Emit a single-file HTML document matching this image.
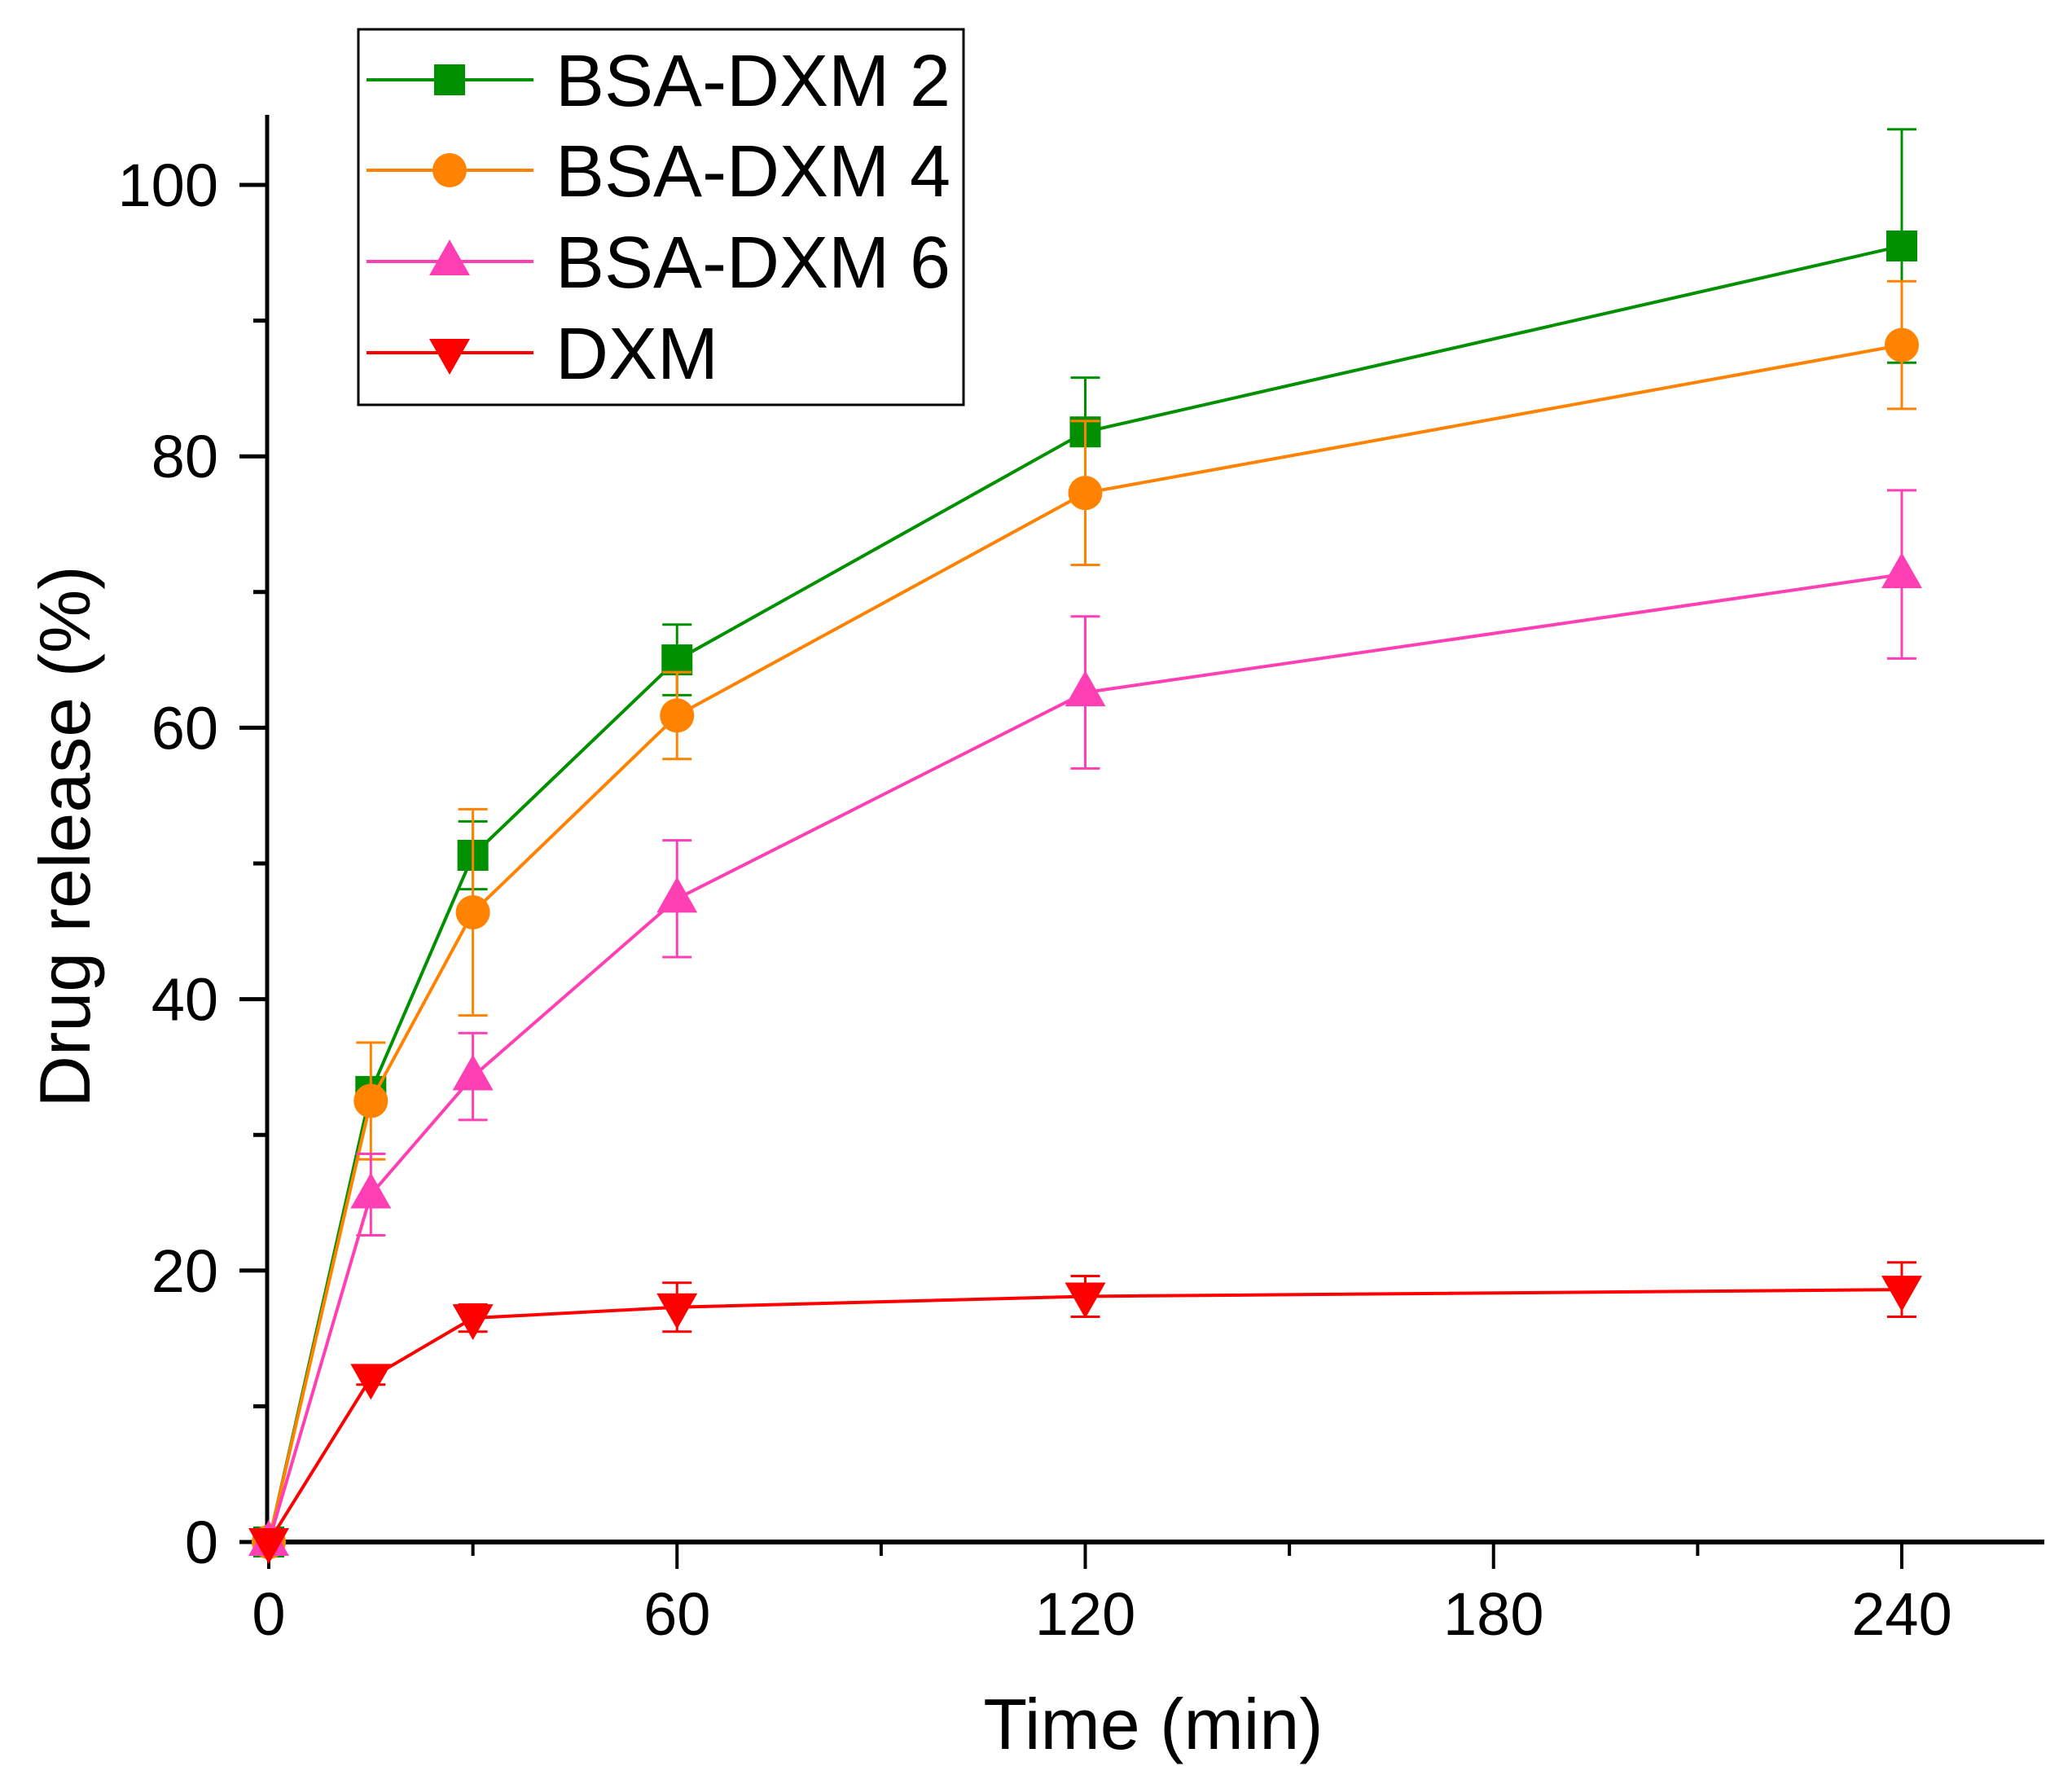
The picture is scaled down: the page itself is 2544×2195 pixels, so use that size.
<!DOCTYPE html>
<html><head><meta charset="utf-8"><style>
html,body{margin:0;padding:0;background:#fff;}
svg{display:block;font-family:"Liberation Sans",Arial,sans-serif;}
</style></head><body>
<svg id="chart" width="2544" height="2195" viewBox="0 0 2544 2195" xmlns="http://www.w3.org/2000/svg">
<rect width="2544" height="2195" fill="#fff"/>
<g id="axes"></g>
<g id="series"></g>
<g id="legend"></g>
</svg>
<script>
const times = [0, 15, 30, 60, 120, 240];
const seriesNames = ["BSA-DXM 2", "BSA-DXM 4", "BSA-DXM 6", "DXM"];
const bsa2 = [0, 33.2, 50.6, 65.0, 81.8, 95.5];
const bsa2Err = [0, 0.8, 2.5, 2.6, 4.0, 8.6];
const bsa4 = [0, 32.5, 46.4, 60.9, 77.3, 88.2];
const bsa4Err = [0, 4.3, 7.6, 3.2, 5.3, 4.7];
const bsa6 = [0, 25.6, 34.3, 47.4, 62.6, 71.3];
const bsa6Err = [0, 3.0, 3.2, 4.3, 5.6, 6.2];
const dxm = [0, 12.1, 16.5, 17.3, 18.1, 18.6];
const dxmErr = [0, 0.5, 1.0, 1.8, 1.5, 2.0];
const xTicks = [0, 60, 120, 180, 240];
const xMinor = [30, 90, 150, 210];
const yTicks = [0, 20, 40, 60, 80, 100];
const yMinor = [10, 30, 50, 70, 90];

const NS = "http://www.w3.org/2000/svg";
const X0 = 330, X240 = 2335, Y0 = 1893, Y100 = 227;
function xs(t){ return X0 + (X240 - X0) * t / 240; }
function ys(v){ return Y0 + (Y100 - Y0) * v / 100; }
function mk(tag, attrs, parent){ const e = document.createElementNS(NS, tag); for (const k in attrs) e.setAttribute(k, attrs[k]); parent.appendChild(e); return e; }

const axes = document.getElementById('axes');
let e;
e = mk('line', {x1: 328, y1: 141, x2: 328, y2: 1896, stroke: '#000', 'stroke-width': 5}, axes);


e = mk('line', {x1: 326, y1: 1893, x2: 2510, y2: 1893, stroke: '#000', 'stroke-width': 6}, axes);


xTicks.forEach(t => {
  e = mk('line', {x1: xs(t), y1: 1893, x2: xs(t), y2: 1926, stroke: '#000', 'stroke-width': 4}, axes);
  
  
  e = mk('text', {x: xs(t), y: 2007, 'font-size': 74, 'text-anchor': 'middle'}, axes);
  e.textContent = t;
  
  
});
xMinor.forEach(t => {
  e = mk('line', {x1: xs(t), y1: 1893, x2: xs(t), y2: 1910, stroke: '#000', 'stroke-width': 4}, axes);
  
  
});
yTicks.forEach(v => {
  e = mk('line', {x1: 294, y1: ys(v), x2: 328, y2: ys(v), stroke: '#000', 'stroke-width': 5}, axes);
  
  
  e = mk('text', {x: 268, y: ys(v) + 26, 'font-size': 74, 'text-anchor': 'end'}, axes);
  e.textContent = v;
  
  
});
yMinor.forEach(v => {
  e = mk('line', {x1: 311, y1: ys(v), x2: 328, y2: ys(v), stroke: '#000', 'stroke-width': 5}, axes);
  
  
});
e = mk('text', {x: 1416, y: 2147, 'font-size': 88, 'text-anchor': 'middle'}, axes);
e.textContent = 'Time (min)';


e = mk('text', {x: 0, y: 0, 'font-size': 88, 'text-anchor': 'middle', transform: 'translate(110,1027) rotate(-90)'}, axes);
e.textContent = 'Drug release (%)';



function marker(shape, cx, cy, color, parent){
  let m;
  if (shape === 'square') m = mk('rect', {x: cx - 19, y: cy - 19, width: 38, height: 38, fill: color}, parent);
  else if (shape === 'circle') m = mk('circle', {cx: cx, cy: cy, r: 21, fill: color}, parent);
  else if (shape === 'up') m = mk('polygon', {points: `${cx},${cy-27} ${cx+25},${cy+17} ${cx-25},${cy+17}`, fill: color}, parent);
  else m = mk('polygon', {points: `${cx},${cy+27} ${cx+25},${cy-17} ${cx-25},${cy-17}`, fill: color}, parent);
  return m;
}

const defs = [
  {vals: bsa2, err: bsa2Err, color: '#009000', shape: 'square'},
  {vals: bsa4, err: bsa4Err, color: '#FF8300', shape: 'circle'},
  {vals: bsa6, err: bsa6Err, color: '#FF40B4', shape: 'up'},
  {vals: dxm, err: dxmErr, color: '#FF0000', shape: 'down'}
];
const sg = document.getElementById('series');
defs.forEach((d, i) => {
  const g = mk('g', {}, sg);
  
  
  const pts = times.map((t, j) => xs(t) + ',' + ys(d.vals[j])).join(' ');
  e = mk('polyline', {points: pts, fill: 'none', stroke: d.color, 'stroke-width': 4}, g);
  
  
  times.forEach((t, j) => {
    if (d.err[j] > 0) {
      const x = xs(t), yt = ys(d.vals[j] + d.err[j]), yb = ys(d.vals[j] - d.err[j]);
      e = mk('path', {d: `M${x},${yt}V${yb}M${x-18},${yt}H${x+18}M${x-18},${yb}H${x+18}`, stroke: d.color, 'stroke-width': 3, fill: 'none'}, g);
      
      
    }
    e = marker(d.shape, xs(t), ys(d.vals[j]), d.color, g);
    
    
  });
});

const lg = document.getElementById('legend');
e = mk('rect', {x: 440, y: 36, width: 743, height: 461, fill: '#fff', stroke: '#000', 'stroke-width': 3}, lg);


const rowsY = [98, 209, 321, 433];
defs.forEach((d, i) => {
  const g = mk('g', {}, lg);
  
  
  mk('line', {x1: 450, y1: rowsY[i], x2: 655, y2: rowsY[i], stroke: d.color, 'stroke-width': 4}, g);
  marker(d.shape, 552, rowsY[i], d.color, g);
  e = mk('text', {x: 682, y: rowsY[i] + 32, 'font-size': 90}, g);
  e.textContent = seriesNames[i];
  
  
});
</script>
</body></html>
